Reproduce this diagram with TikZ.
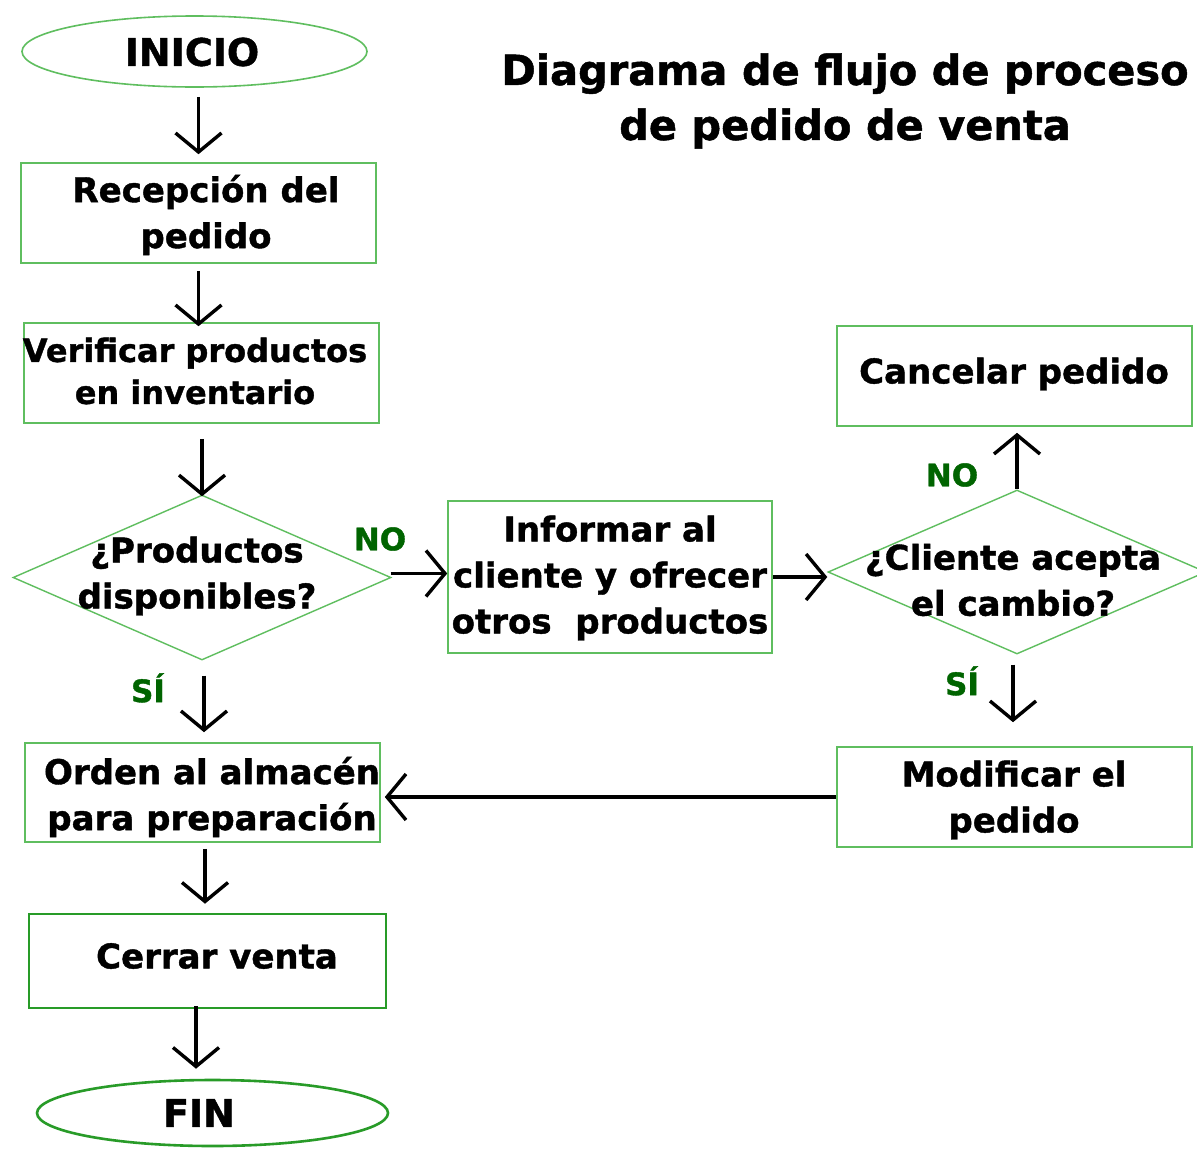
\documentclass[tikz,border=0pt]{standalone}
\usepackage{fontspec}
\setmainfont{DejaVu Sans}[BoldFeatures={FakeBold=1.2}]
\usetikzlibrary{shapes.geometric,arrows.meta,calc}
\definecolor{boxgreen}{RGB}{95,190,95}
\definecolor{darkboxgreen}{RGB}{40,155,40}
\definecolor{lblgreen}{RGB}{0,100,0}
\begin{document}
\begin{tikzpicture}[x=1pt,y=-1pt,
  box/.style={draw=boxgreen,line width=1.6pt,rectangle,inner sep=0pt},
  thickbox/.style={draw=darkboxgreen,line width=2.6pt,rectangle,inner sep=0pt},
  oval/.style={draw=boxgreen,line width=1.6pt,ellipse,inner sep=0pt},
  thickoval/.style={draw=darkboxgreen,line width=2.6pt,ellipse,inner sep=0pt},
  dia/.style={draw=boxgreen,line width=1.4pt,diamond,inner sep=0pt},
  txt/.style={font=\bfseries\fontsize{34}{46}\selectfont,align=center,inner sep=0pt},
  smalltxt/.style={font=\bfseries\fontsize{32}{42}\selectfont,align=center,inner sep=0pt},
  bigtxt/.style={font=\bfseries\fontsize{38}{46}\selectfont,align=center,inner sep=0pt},
  titletxt/.style={font=\bfseries\fontsize{41.5}{55}\selectfont,align=center,inner sep=0pt},
  lbl/.style={font=\bfseries\fontsize{31}{36}\selectfont,text=lblgreen,inner sep=0pt},
  arr/.style={line width=3.4pt,-{Straight Barb[length=19pt,width=46pt,line width=3.4pt]}}
]
\fill[white] (0,0) rectangle (1197,1157);
\useasboundingbox (0,0) rectangle (1197,1157);

% shapes
\node[oval,minimum width=345pt,minimum height=71pt] (ini) at (194.5,51.5) {};
\node[box,minimum width=355pt,minimum height=100pt] (rec) at (198.5,213) {};
\node[box,minimum width=355pt,minimum height=100pt] (ver) at (201.5,373) {};
\node[dia,minimum width=378pt,minimum height=165pt] (d1) at (202,577.5) {};
\node[box,minimum width=324pt,minimum height=152pt] (inf) at (610,577) {};
\node[dia,minimum width=378pt,minimum height=164pt] (d2) at (1017,572) {};
\node[box,minimum width=355pt,minimum height=100pt] (can) at (1014.5,376) {};
\node[box,minimum width=355pt,minimum height=100pt] (mod) at (1014.5,797) {};
\node[box,minimum width=355pt,minimum height=99pt] (ord) at (202.5,792.5) {};
\node[thickbox,minimum width=357pt,minimum height=94pt] (cer) at (207.5,961) {};
\node[thickoval,minimum width=351pt,minimum height=66pt] (fin) at (212.5,1113) {};

% texts
\node[bigtxt] (iniT) at (192,52) {INICIO};
\node[txt] (recT) at (206,215) {Recepción del\\pedido};
\node[smalltxt] (verT) at (195,371) {Verificar productos\\en inventario};
\node[txt] (d1T) at (197,576) {¿Productos\\disponibles?};
\node[txt] (infT) at (610,578) {Informar al\\cliente y ofrecer\\otros~ productos};
\node[txt] (d2T) at (1013,580) {¿Cliente acepta\\el cambio?};
\node[txt] (canT) at (1014,374) {Cancelar pedido};
\node[txt] (modT) at (1014,800) {Modificar el\\pedido};
\node[txt] (ordT) at (212,797) {Orden al almacén\\para preparación};
\node[txt] (cerT) at (217,956) {Cerrar venta};
\node[bigtxt] (finT) at (199,1113) {FIN};
\node[titletxt] (title) at (845,101) {Diagrama de flujo de proceso\\de pedido de venta};

% labels
\node[lbl] (no1) at (380,539) {NO};
\node[lbl] (no2) at (952,475) {NO};
\node[lbl] (si1) at (148,688) {SÍ};
\node[lbl] (si2) at (962,681) {SÍ};

% connectors
\draw[arr] ($(ini.south -| rec.north)+(0,9)$) -- ($(rec.north)+(0,-8)$);
\draw[arr] ($(rec.south)+(0,7)$) -- ($(rec.south |- ver.north)+(0,4)$);
\draw[arr] ($(ver.south -| d1.north)+(0,15)$) -- ($(d1.north)+(0,2)$);
\draw[arr] ($(d1.east)+(-1,-4)$) -- ($(d1.east -| inf.west)+(0,-4)$);
\draw[arr] (inf.east) -- (inf.east -| d2.west);
\draw[arr] (d2.north) -- ($(d2.north |- can.south)+(0,6)$);
\draw[arr] ($(d2.south)+(-4,10)$) -- ($(mod.north)+(-1.5,-24)$);
\draw[arr] (mod.west) -- ($(mod.west -| ord.east)+(4,0)$);
\draw[arr] ($(d1.south)+(2,15)$) -- ($(ord.north)+(1.5,-10)$);
\draw[arr] ($(ord.south)+(2.5,6)$) -- ($(cer.north)+(-2.5,-9)$);
\draw[arr] ($(cer.south)+(-11.5,-3)$) -- ($(fin.north)+(-16.5,-10)$);
\end{tikzpicture}
\end{document}
